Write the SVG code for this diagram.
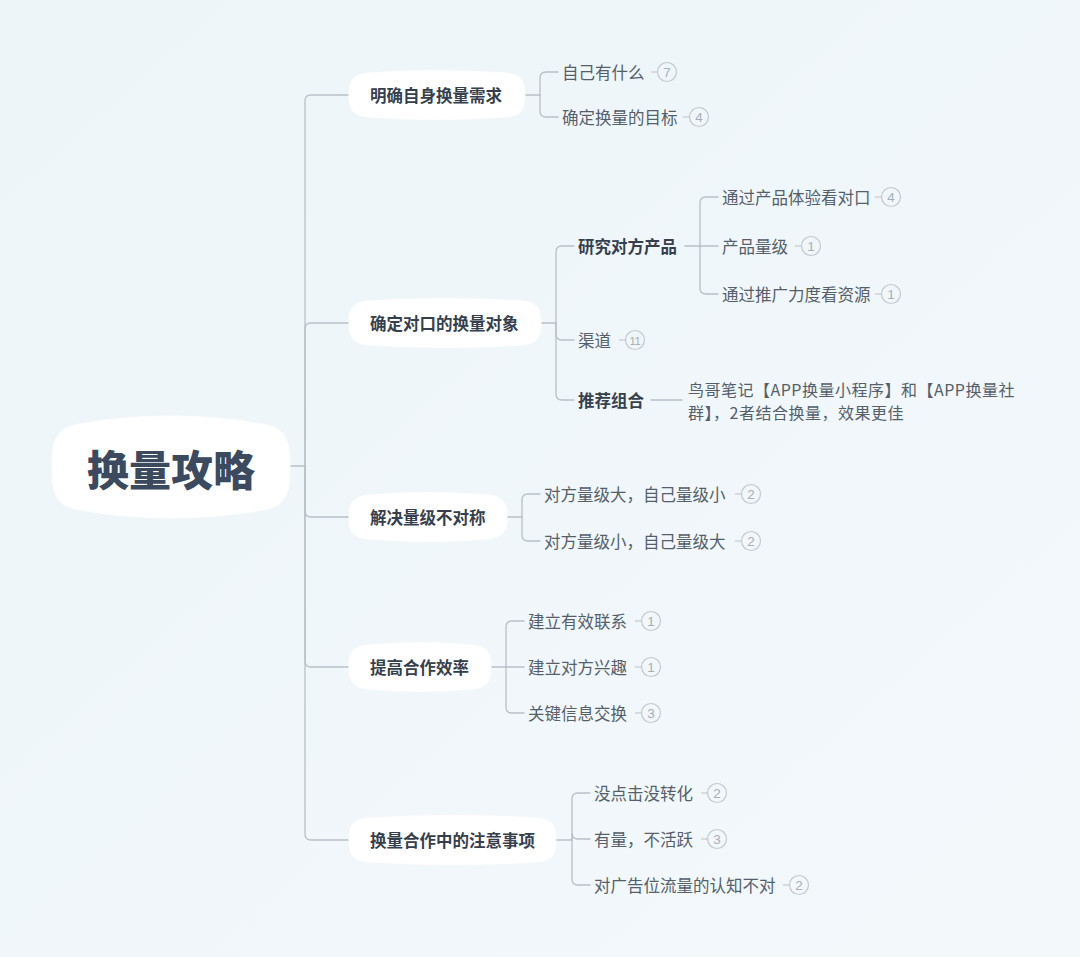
<svg xmlns="http://www.w3.org/2000/svg" width="1080" height="957" viewBox="0 0 1080 957">
<defs>
<linearGradient id="bg" x1="0" y1="0" x2="1" y2="1">
<stop offset="0" stop-color="#edf5f8"/>
<stop offset="1" stop-color="#f3f8fb"/>
</linearGradient>
<style>
.shape{fill:#ffffff;stroke:#ffffff;stroke-width:1;stroke-linejoin:round}
.root{font-family:"Noto Sans CJK SC","Noto Sans",sans-serif;font-size:42px;font-weight:900;fill:#3b4a5e;text-anchor:middle;dominant-baseline:central}
.l1{font-family:"Noto Sans CJK SC","Noto Sans",sans-serif;font-size:16.5px;font-weight:700;fill:#363f4d;dominant-baseline:central}
.l2{font-family:"Noto Sans CJK SC","Noto Sans",sans-serif;font-size:16.5px;fill:#555f6b;dominant-baseline:central}
.desc{font-family:"Noto Sans CJK SC","Noto Sans",sans-serif;font-size:16px;letter-spacing:0.5px;fill:#555f6b;dominant-baseline:central}
.conn path{fill:none;stroke:#b9c0c7;stroke-width:1.3;stroke-linecap:round}
.bd circle{fill:none;stroke:#c3c9cf;stroke-width:1.2}
.bd line{stroke:#c3c9cf;stroke-width:1.2}
.bd text{font-family:"Liberation Sans",Arial,sans-serif;font-size:13.5px;fill:#a7aeb6;text-anchor:middle;dominant-baseline:central}
</style>
</defs>
<rect width="1080" height="957" fill="url(#bg)"/>

<g id="connectors" class="conn">
<path d="M290 466 H305"/>
<path d="M305 466 V101 Q305 95 311 95 H349"/>
<path d="M305 466 V329 Q305 323 311 323 H349"/>
<path d="M305 466 V511 Q305 517 311 517 H349"/>
<path d="M305 466 V661 Q305 667 311 667 H349"/>
<path d="M305 466 V834 Q305 840 311 840 H349"/>

<path d="M525 95 H540"/>
<path d="M540 95 V78 Q540 72 546 72 H558"/>
<path d="M540 95 V111 Q540 117 546 117 H558"/>

<path d="M541 323 H556"/>
<path d="M556 323 V252 Q556 246 562 246 H574"/>
<path d="M556 323 V334 Q556 340 562 340 H574"/>
<path d="M556 323 V394 Q556 400 562 400 H574"/>

<path d="M685 246 H700"/>
<path d="M700 246 V203 Q700 197 706 197 H718"/>
<path d="M700 246 H718"/>
<path d="M700 246 V288 Q700 294 706 294 H718"/>

<path d="M651 400 H682"/>

<path d="M507 517 H522"/>
<path d="M522 517 V500 Q522 494 528 494 H540"/>
<path d="M522 517 V535 Q522 541 528 541 H540"/>

<path d="M491 667 H506"/>
<path d="M506 667 V627 Q506 621 512 621 H524"/>
<path d="M506 667 H524"/>
<path d="M506 667 V707 Q506 713 512 713 H524"/>

<path d="M556 840 H572"/>
<path d="M572 840 V799 Q572 793 578 793 H590"/>
<path d="M572 840 V833 Q572 839 578 839 H590"/>
<path d="M572 840 V879 Q572 885 578 885 H590"/>
</g>

<g id="root">
<path class="shape" d="M52 467 C52 440 56 428 80 424 Q171 408 262 424 C286 428 290 440 290 467 C290 494 286 506 262 510 Q171 526 80 510 C56 506 52 494 52 467 Z"/>
<text class="root" x="171" y="467">换量攻略</text>
</g>

<g id="n1">
<path class="shape" d="M349 95 C349 81 353 74 369 73 Q437 68 505 73 C521 74 525 81 525 95 C525 109 521 116 505 117 Q437 122 369 117 C353 116 349 109 349 95 Z"/>
<text class="l1" x="370" y="95">明确自身换量需求</text>
</g>
<g id="n1a"><text class="l2" x="562" y="72">自己有什么</text>
<g class="bd"><line x1="651" y1="72" x2="657" y2="72"/><circle cx="667" cy="72" r="9.5"/><text x="667" y="72.5">7</text></g></g>
<g id="n1b"><text class="l2" x="562" y="117">确定换量的目标</text>
<g class="bd"><line x1="683" y1="117" x2="689" y2="117"/><circle cx="699" cy="117" r="9.5"/><text x="699" y="117.5">4</text></g></g>

<g id="n2">
<path class="shape" d="M349 323 C349 309 353 302 369 301 Q445 296 521 301 C537 302 541 309 541 323 C541 337 537 344 521 345 Q445 350 369 345 C353 344 349 337 349 323 Z"/>
<text class="l1" x="370" y="323">确定对口的换量对象</text>
</g>
<g id="n2a"><text class="l1" x="578" y="246">研究对方产品</text></g>
<g id="n2a1"><text class="l2" x="722" y="197">通过产品体验看对口</text>
<g class="bd"><line x1="875" y1="197" x2="881" y2="197"/><circle cx="891" cy="197" r="9.5"/><text x="891" y="197.5">4</text></g></g>
<g id="n2a2"><text class="l2" x="722" y="246">产品量级</text>
<g class="bd"><line x1="795" y1="246" x2="801" y2="246"/><circle cx="811" cy="246" r="9.5"/><text x="811" y="246.5">1</text></g></g>
<g id="n2a3"><text class="l2" x="722" y="294">通过推广力度看资源</text>
<g class="bd"><line x1="875" y1="294" x2="881" y2="294"/><circle cx="891" cy="294" r="9.5"/><text x="891" y="294.5">1</text></g></g>
<g id="n2b"><text class="l2" x="578" y="340">渠道</text>
<g class="bd"><line x1="619" y1="340" x2="625" y2="340"/><circle cx="635" cy="340" r="9.5"/><text x="635" y="340.5" style="font-size:11.5px;letter-spacing:-0.5px">11</text></g></g>
<g id="n2c"><text class="l1" x="578" y="400">推荐组合</text></g>
<g id="n2c1">
<text class="desc" x="688" y="389"><tspan x="688" y="389">鸟哥笔记【APP换量小程序】和【APP换量社</tspan><tspan x="688" y="412">群】，2者结合换量，效果更佳</tspan></text>
</g>

<g id="n3">
<path class="shape" d="M349 517 C349 503 353 496 369 495 Q428 490 487 495 C503 496 507 503 507 517 C507 531 503 538 487 539 Q428 544 369 539 C353 538 349 531 349 517 Z"/>
<text class="l1" x="370" y="517">解决量级不对称</text>
</g>
<g id="n3a"><text class="l2" x="544" y="494">对方量级大，自己量级小</text>
<g class="bd"><line x1="735" y1="494" x2="741" y2="494"/><circle cx="751" cy="494" r="9.5"/><text x="751" y="494.5">2</text></g></g>
<g id="n3b"><text class="l2" x="544" y="541">对方量级小，自己量级大</text>
<g class="bd"><line x1="735" y1="541" x2="741" y2="541"/><circle cx="751" cy="541" r="9.5"/><text x="751" y="541.5">2</text></g></g>

<g id="n4">
<path class="shape" d="M349 667 C349 653 353 646 369 645 Q420 640 471 645 C487 646 491 653 491 667 C491 681 487 688 471 689 Q420 694 369 689 C353 688 349 681 349 667 Z"/>
<text class="l1" x="370" y="667">提高合作效率</text>
</g>
<g id="n4a"><text class="l2" x="528" y="621">建立有效联系</text>
<g class="bd"><line x1="635" y1="621" x2="641" y2="621"/><circle cx="651" cy="621" r="9.5"/><text x="651" y="621.5">1</text></g></g>
<g id="n4b"><text class="l2" x="528" y="667">建立对方兴趣</text>
<g class="bd"><line x1="635" y1="667" x2="641" y2="667"/><circle cx="651" cy="667" r="9.5"/><text x="651" y="667.5">1</text></g></g>
<g id="n4c"><text class="l2" x="528" y="713">关键信息交换</text>
<g class="bd"><line x1="635" y1="713" x2="641" y2="713"/><circle cx="651" cy="713" r="9.5"/><text x="651" y="713.5">3</text></g></g>

<g id="n5">
<path class="shape" d="M349 840 C349 826 353 819 369 818 Q452 813 536 818 C552 819 556 826 556 840 C556 854 552 861 536 862 Q452 867 369 862 C353 861 349 854 349 840 Z"/>
<text class="l1" x="370" y="840">换量合作中的注意事项</text>
</g>
<g id="n5a"><text class="l2" x="594" y="793">没点击没转化</text>
<g class="bd"><line x1="701" y1="793" x2="707" y2="793"/><circle cx="717" cy="793" r="9.5"/><text x="717" y="793.5">2</text></g></g>
<g id="n5b"><text class="l2" x="594" y="839">有量，不活跃</text>
<g class="bd"><line x1="701" y1="839" x2="707" y2="839"/><circle cx="717" cy="839" r="9.5"/><text x="717" y="839.5">3</text></g></g>
<g id="n5c"><text class="l2" x="594" y="885">对广告位流量的认知不对</text>
<g class="bd"><line x1="783" y1="885" x2="789" y2="885"/><circle cx="799" cy="885" r="9.5"/><text x="799" y="885.5">2</text></g></g>
</svg>
